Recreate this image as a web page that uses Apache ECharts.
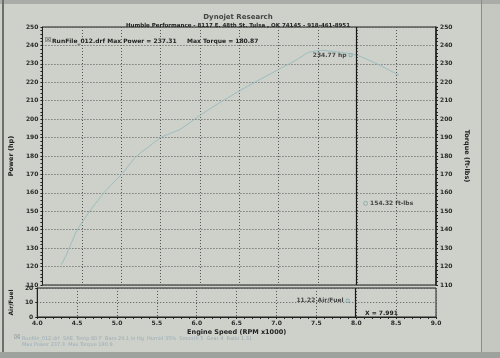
<!DOCTYPE html>
<html><head><meta charset="utf-8">
<script src="https://cdn.jsdelivr.net/npm/echarts@6/dist/echarts.min.js"></script>
<style>html,body{margin:0;padding:0;background:#cdd1ca;}#c{width:500px;height:358px;}</style>
</head><body><div id="c"></div>
<script>
const rpm   = [4.24, 4.30, 4.44, 4.61, 4.80, 5.02, 5.18, 5.35, 5.51, 5.75, 6.00, 6.24, 6.57, 6.98, 7.22, 7.38, 7.55, 7.75, 7.99, 8.25, 8.53];
const power = [121, 126, 139.8, 150.6, 161, 170.7, 179.3, 185, 190.2, 194.5, 202, 208.6, 217, 226.5, 232, 236.2, 237.3, 236.5, 234.8, 230, 223.8];
const cursorX = 7.991;
const cursorPower = 234.77;
const cursorTorque = 154.32;
const cursorAF = 11.22;
const maxPower = 237.31, maxTorque = 180.87;
const xTicks = ['4.0','4.5','5.0','5.5','6.0','6.5','7.0','7.5','8.0','8.5','9.0'];

const F = 'DejaVu Sans';
const txt = {fontFamily: F, fontSize: 6, fontWeight: 'bold', color: '#2a2a2a'};
const dotted = {lineStyle: {color: '#555', type: [1, 2], width: 1}};
const chart = echarts.init(document.getElementById('c'));
chart.setOption({
  backgroundColor: '#cdd1ca',
  animation: false,
  title: [
    {text: 'Dynojet Research', left: 233, textAlign: 'center', top: 9,
     textStyle: {fontFamily: F, fontSize: 7, fontWeight: 'bold', color: '#444'}},
    {text: 'Humble Performance - 8117 E. 48th St. Tulsa , OK 74145 - 918-461-8951', left: 233, textAlign: 'center', top: 18,
     textStyle: {fontFamily: F, fontSize: 5.5, fontWeight: 'bold', color: '#222'}}
  ],
  grid: [
    {left: 27, right: 64, top: 27, height: 258, show: true, borderColor: '#222', borderWidth: 1},
    {left: 27, right: 64, top: 288, height: 29, show: true, borderColor: '#222', borderWidth: 1}
  ],
  xAxis: [
    {gridIndex: 0, type: 'value', min: 4, max: 9, interval: 0.5,
     axisLabel: {show: false}, axisTick: {show: false}, axisLine: {show: false},
     splitLine: Object.assign({show: true}, dotted)},
    {gridIndex: 1, type: 'value', min: 4, max: 9, interval: 0.5,
     axisLabel: Object.assign({margin: 3, formatter: v => xTicks[Math.round((v - 4) / 0.5)]}, txt),
     axisTick: {show: true, length: 2, lineStyle: {color: '#222'}},
     minorTick: {show: true, splitNumber: 5, length: 2, lineStyle: {color: '#222'}},
     axisLine: {show: true, lineStyle: {color: '#222'}},
     splitLine: Object.assign({show: true}, dotted),
     name: 'Engine Speed (RPM x1000)', nameLocation: 'middle', nameGap: 12,
     nameTextStyle: {fontFamily: F, fontSize: 6.5, fontWeight: 'bold', color: '#222'}}
  ],
  yAxis: [
    {gridIndex: 0, type: 'value', min: 110, max: 250, interval: 10, position: 'left',
     axisLabel: Object.assign({margin: 4}, txt),
     axisTick: {show: true, length: 2, inside: false, lineStyle: {color: '#222'}},
     minorTick: {show: true, splitNumber: 5, length: 2, lineStyle: {color: '#222'}},
     axisLine: {show: true, lineStyle: {color: '#222'}},
     splitLine: Object.assign({show: true}, dotted),
     name: 'Power (hp)', nameLocation: 'middle', nameGap: 15,
     nameTextStyle: {fontFamily: F, fontSize: 6.5, fontWeight: 'bold', color: '#222'}},
    {gridIndex: 0, type: 'value', min: 110, max: 250, interval: 10, position: 'right',
     axisLabel: Object.assign({margin: 4}, txt),
     axisTick: {show: true, length: 2, lineStyle: {color: '#222'}},
     minorTick: {show: true, splitNumber: 5, length: 2, lineStyle: {color: '#222'}},
     axisLine: {show: true, lineStyle: {color: '#222', width: 1.5}},
     splitLine: {show: false},
     name: 'Torque (ft-lbs)', nameLocation: 'middle', nameGap: 17, nameRotate: -90,
     nameTextStyle: {fontFamily: F, fontSize: 6.5, fontWeight: 'bold', color: '#222'}},
    {gridIndex: 1, type: 'value', min: 0, max: 20, interval: 10,
     axisLabel: Object.assign({margin: 4}, txt),
     axisTick: {show: true, length: 2, lineStyle: {color: '#222'}},
     axisLine: {show: true, lineStyle: {color: '#222'}},
     splitLine: Object.assign({show: true}, dotted),
     name: 'Air/Fuel', nameLocation: 'middle', nameGap: 15,
     nameTextStyle: {fontFamily: F, fontSize: 6, fontWeight: 'bold', color: '#222'}}
  ],
  series: [
    {type: 'line', xAxisIndex: 0, yAxisIndex: 0, smooth: 0.15, symbol: 'none',
     data: rpm.map((r, i) => [r, power[i]]),
     lineStyle: {color: '#9bbdc0', width: 1},
     markLine: {silent: true, symbol: 'none', label: {show: false},
       lineStyle: {color: '#1a1a1a', type: 'solid', width: 1.2},
       data: [{xAxis: cursorX}]}},
    {type: 'scatter', xAxisIndex: 0, yAxisIndex: 0, symbol: 'rect', symbolSize: 3,
     itemStyle: {color: 'transparent', borderColor: '#7fa9ae', borderWidth: 1},
     symbolOffset: [-6, 0],
     data: [[cursorX, cursorPower]],
     label: {show: true, position: 'left', distance: 2, formatter: cursorPower.toFixed(2) + ' hp',
       fontFamily: F, fontSize: 6, fontWeight: 'bold', color: '#222'}},
    {type: 'scatter', xAxisIndex: 0, yAxisIndex: 1, symbol: 'circle', symbolSize: 4,
     itemStyle: {color: 'transparent', borderColor: '#7fa9ae', borderWidth: 1},
     symbolOffset: [9, 0],
     data: [[cursorX, cursorTorque]],
     label: {show: true, position: 'right', distance: 2, formatter: cursorTorque.toFixed(2) + ' ft-lbs',
       fontFamily: F, fontSize: 6, fontWeight: 'bold', color: '#222'}},
    {type: 'scatter', xAxisIndex: 1, yAxisIndex: 2, symbol: 'rect', symbolSize: 3,
     itemStyle: {color: 'transparent', borderColor: '#7fa9ae', borderWidth: 1},
     symbolOffset: [-8, 0],
     data: [[cursorX, cursorAF]],
     label: {show: true, position: 'left', distance: 2, formatter: cursorAF.toFixed(2) + ' Air/Fuel',
       fontFamily: F, fontSize: 6, fontWeight: 'bold', color: '#222'},
     markLine: {silent: true, symbol: 'none', label: {show: false},
       lineStyle: {color: '#1a1a1a', type: 'solid', width: 1.2},
       data: [{xAxis: cursorX}]}}
  ],
  graphic: [
    {type: 'text', left: 45, top: 37, style: {text: '\u2612', font: 'bold 7px "DejaVu Sans"', fill: '#333'}},
    {type: 'text', left: 52, top: 38, style: {text: 'RunFile_012.drf Max Power = ' + maxPower.toFixed(2) + '     Max Torque = ' + maxTorque.toFixed(2), font: 'bold 6px "DejaVu Sans"', fill: '#222'}},
    {type: 'text', left: 365, top: 310, style: {text: 'X = ' + cursorX.toFixed(3), font: 'bold 6px "DejaVu Sans"', fill: '#222'}},
    {type: 'text', left: 14, top: 334, style: {text: '\u2612', font: '7px "DejaVu Sans"', fill: '#7f8e98'}},
    {type: 'text', left: 22, top: 336, style: {text: 'Runfile_012.drf  SAE  Temp 80 F  Baro 29.1 in Hg  Humid 35%  Smooth 5  Gear 4  Ratio 1.31', font: '5px "DejaVu Sans"', fill: '#9dadb8'}},
    {type: 'text', left: 22, top: 342, style: {text: 'Max Power 237.3  Max Torque 180.9', font: '5px "DejaVu Sans"', fill: '#9dadb8'}},
    {type: 'rect', shape: {x: 0, y: 0, width: 500, height: 4}, style: {fill: '#a9aca7'}},
    {type: 'rect', shape: {x: 2, y: 0, width: 2, height: 358}, style: {fill: '#6c706a'}},
    {type: 'rect', shape: {x: 0, y: 352, width: 500, height: 6}, style: {fill: '#9ea29c'}},
    {type: 'rect', shape: {x: 481, y: 0, width: 1, height: 352}, style: {fill: '#8a8e88'}},
    {type: 'rect', shape: {x: 482, y: 4, width: 18, height: 348}, style: {fill: '#c4c8c1'}}
  ]
});
</script></body></html>
